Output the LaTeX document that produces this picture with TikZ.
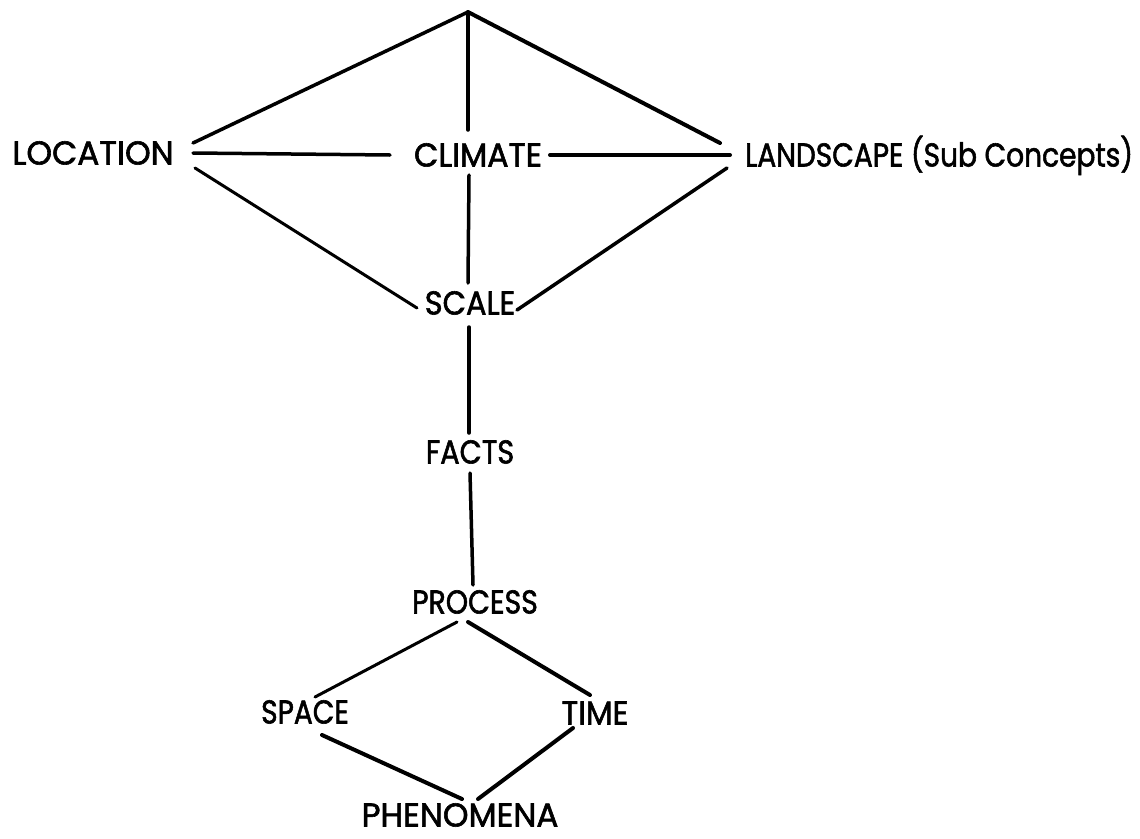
\documentclass[tikz,border=0pt]{standalone}
\usepackage{fontspec}
\setmainfont{Poppins}[FakeBold=1.8]
\newcommand\hsq[2]{\scalebox{#1}[1]{#2}}
\begin{document}
\begin{tikzpicture}[x=1pt,y=-1pt,
  lbl/.style={inner sep=0pt,text height=23pt,text depth=0pt,font=\fontsize{33}{33}\selectfont},
  link/.style={line width=3.5pt,line cap=round}]
\useasboundingbox (0,0) rectangle (1140,838);
\coordinate (top) at (468,12);
\node[lbl] (loc) at (93,153) {\hsq{0.99}{LOCATION}};
\node[lbl] (cli) at (478,155) {\hsq{0.96}{CLIMATE}};
\node[lbl,anchor=west] (land) at (745,155) {\hsq{0.85}{LANDSCAPE (Sub Concepts)}};
\node[lbl] (scale) at (470,303) {\hsq{0.92}{SCALE}};
\node[lbl] (facts) at (470,452) {\hsq{0.87}{FACTS}};
\node[lbl] (proc) at (475,602) {\hsq{0.86}{PROCESS}};
\node[lbl] (space) at (305,712) {\hsq{0.85}{SPACE}};
\node[lbl] (time) at (595,713) {\hsq{0.94}{TIME}};
\node[lbl] (phen) at (460,815) {\hsq{0.99}{PHENOMENA}};
% apex
\draw[link] (top) -- ([shift={(100,-10)}]loc.center);
\draw[link] (top) -- ([shift={(-10,-25)}]cli.center);
\draw[link,line width=4pt] (top) -- ([shift={(-25,-12)}]land.west);
% horizontals
\draw[link] ([shift={(100,0)}]loc.center) -- ([shift={(-88,0)}]cli.center);
\draw[link,line width=4pt] ([shift={(72,0)}]cli.center) -- ([shift={(-15,0)}]land.west);
% to scale
\draw[link,line width=3pt] ([shift={(102,15)}]loc.center) -- ([shift={(-53,5)}]scale.center);
\draw[link] ([shift={(-18,13)}]land.west) -- ([shift={(47,7)}]scale.center);
\draw[link] ([shift={(-9,20)}]cli.center) -- ([shift={(-2,-20)}]scale.center);
% chain
\draw[link] ([shift={(-1,24)}]scale.center) -- ([shift={(-1,-19)}]facts.center);
\draw[link] ([shift={(0,21)}]facts.center) -- ([shift={(-2,-17)}]proc.center);
% lower diamond
\draw[link,line width=3pt] ([shift={(-18,20)}]proc.center) -- ([shift={(10,-15)}]space.center);
\draw[link,line width=4pt] ([shift={(-7,20)}]proc.center) -- ([shift={(-5,-18)}]time.center);
\draw[link,line width=4pt] ([shift={(17,23)}]space.center) -- ([shift={(2,-16)}]phen.center);
\draw[link,line width=4pt] ([shift={(-22,15)}]time.center) -- ([shift={(18,-16)}]phen.center);
\end{tikzpicture}
\end{document}
